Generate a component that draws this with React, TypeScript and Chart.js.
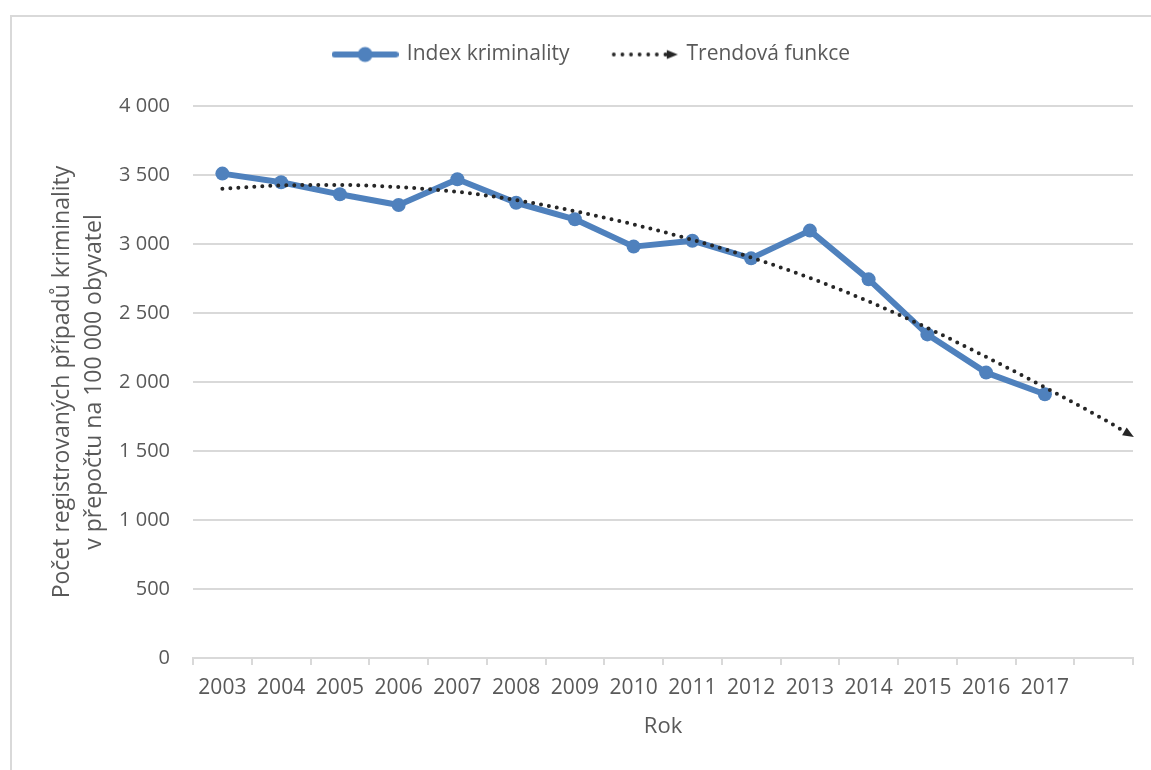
import React, { useEffect, useRef } from "react";
import { Chart, registerables } from "chart.js";

Chart.register(...registerables);

const years = [2003, 2004, 2005, 2006, 2007, 2008, 2009, 2010, 2011, 2012, 2013, 2014, 2015, 2016, 2017];
const crimeIndex = [3510, 3447, 3360, 3283, 3469, 3299, 3179, 2981, 3024, 2896, 3097, 2744, 2345, 2068, 1911];

// trend (Excel polynomial trendline, forecast forward past 2017)
const trendYears = [2003, 2004, 2005, 2006, 2007, 2008, 2009, 2010, 2011, 2012, 2013, 2014, 2015, 2016, 2017, 2018, 2018.5];
const trendValues = [3400, 3425, 3428, 3412, 3378, 3318, 3238, 3142, 3030, 2902, 2754, 2584, 2392, 2182, 1962, 1730, 1605];

const seriesNames = ["Index kriminality", "Trendová funkce"];
const yTitle = ["Počet registrovaných případů kriminality", "v přepočtu na 100 000 obyvatel"];
const xTitle = "Rok";

const BLUE = "#4f81bd";
const DARK = "#262626";
const GREY = "#d9d9d9";
const TEXT = "#595959";
const FONT = "'Open Sans', sans-serif";

const fmt = (v: number) =>
  v >= 1000 ? `${Math.floor(v / 1000)} ${String(v % 1000).padStart(3, "0")}` : String(v);

// legend samples drawn like Excel (line + marker, dotted line + arrow)
function lineSample() {
  const c = document.createElement("canvas");
  c.width = 67;
  c.height = 20;
  const ctx = c.getContext("2d")!;
  ctx.strokeStyle = BLUE;
  ctx.lineWidth = 6;
  ctx.lineCap = "round";
  ctx.beginPath();
  ctx.moveTo(3, 10);
  ctx.lineTo(64, 10);
  ctx.stroke();
  ctx.fillStyle = BLUE;
  ctx.beginPath();
  ctx.arc(33.5, 10, 7.5, 0, Math.PI * 2);
  ctx.fill();
  return c;
}

function trendSample() {
  const c = document.createElement("canvas");
  c.width = 68;
  c.height = 20;
  const ctx = c.getContext("2d")!;
  ctx.fillStyle = DARK;
  for (let i = 0; i < 7; i++) {
    ctx.beginPath();
    ctx.arc(3 + i * 8.6, 10, 1.9, 0, Math.PI * 2);
    ctx.fill();
  }
  ctx.beginPath();
  ctx.moveTo(67, 10);
  ctx.lineTo(56, 5.5);
  ctx.lineTo(56, 14.5);
  ctx.closePath();
  ctx.fill();
  return c;
}

const arrowPlugin = {
  id: "trendArrow",
  afterDatasetsDraw(chart: any) {
    const pts = chart.getDatasetMeta(1).data;
    const n = pts.length;
    if (n < 2) return;
    const a = pts[n - 2];
    const b = pts[n - 1];
    const ang = Math.atan2(b.y - a.y, b.x - a.x);
    const ctx = chart.ctx;
    ctx.save();
    ctx.translate(b.x, b.y);
    ctx.rotate(ang);
    ctx.fillStyle = DARK;
    ctx.beginPath();
    ctx.moveTo(1, 0);
    ctx.lineTo(-10, -4.5);
    ctx.lineTo(-10, 4.5);
    ctx.closePath();
    ctx.fill();
    ctx.restore();
  },
};

const App = () => {
  const ref = useRef<HTMLCanvasElement>(null!);

  useEffect(() => {
    const samples = [lineSample(), trendSample()];
    const chart = new Chart(ref.current, {
      type: "line",
      data: {
        labels: [...years.map(String), ""],
        datasets: [
          {
            label: seriesNames[0],
            data: crimeIndex,
            xAxisID: "x",
            yAxisID: "y",
            borderColor: BLUE,
            backgroundColor: BLUE,
            borderWidth: 6,
            borderJoinStyle: "round",
            pointRadius: 7,
            pointHoverRadius: 7,
            pointBorderWidth: 0,
            pointBackgroundColor: BLUE,
            tension: 0,
            order: 2,
          },
          {
            label: seriesNames[1],
            data: trendYears.map((x, i) => ({ x, y: trendValues[i] })),
            xAxisID: "x2",
            yAxisID: "y",
            borderColor: DARK,
            borderWidth: 4,
            borderDash: [0, 8],
            borderCapStyle: "round",
            pointRadius: 0,
            pointHoverRadius: 0,
            cubicInterpolationMode: "monotone",
            fill: false,
            clip: false,
            order: 1,
          },
        ],
      } as any,
      options: {
        responsive: false,
        animation: false,
        layout: { padding: { top: 0, right: 18, bottom: 0, left: 51 } },
        font: { family: FONT },
        plugins: {
          tooltip: { enabled: false },
          legend: {
            position: "top",
            labels: {
              usePointStyle: true,
              pointStyleWidth: 62.5,
              padding: 44,
              color: TEXT,
              font: { family: FONT, size: 21 },
              generateLabels: () =>
                seriesNames.map((text, i) => ({
                  text,
                  pointStyle: samples[i],
                  fillStyle: "transparent",
                  strokeStyle: "transparent",
                  lineWidth: 0,
                  hidden: false,
                  datasetIndex: i,
                  fontColor: TEXT,
                })),
            },
          },
        },
        scales: {
          x: {
            type: "category",
            position: "bottom",
            offset: true,
            afterFit: (s: any) => {
              s.height = 112;
            },
            grid: {
              offset: true,
              drawOnChartArea: false,
              drawTicks: true,
              tickLength: 7,
              color: GREY,
              lineWidth: 2,
            },
            border: { display: true, color: GREY, width: 2 },
            ticks: {
              autoSkip: false,
              maxRotation: 0,
              padding: 10,
              color: TEXT,
              font: { family: FONT, size: 21 },
            },
            title: {
              display: true,
              text: xTitle,
              color: TEXT,
              font: { family: FONT, size: 22 },
              padding: { top: 0, bottom: 30 },
            },
          },
          // hidden linear axis for the trendline (runs half a period past the last year)
          x2: {
            type: "linear",
            position: "top",
            min: 2002.5,
            max: 2018.5,
            afterFit: (s: any) => {
              s.height = 31;
            },
            grid: { display: false },
            border: { display: false },
            ticks: { display: false },
          },
          y: {
            type: "linear",
            min: 0,
            max: 4000,
            afterFit: (s: any) => {
              s.width = 142;
            },
            grid: { color: GREY, lineWidth: 2, drawTicks: false },
            border: { display: false },
            ticks: {
              stepSize: 500,
              padding: 23,
              color: TEXT,
              font: { family: FONT, size: 20 },
              callback: (v: any) => fmt(Number(v)),
            },
            title: {
              display: true,
              text: yTitle,
              color: TEXT,
              font: { family: FONT, size: 23, lineHeight: 1.39 },
              padding: { top: -5, bottom: 0 },
            },
          },
        },
      } as any,
      plugins: [arrowPlugin],
    });
    return () => {
      chart.destroy();
    };
  }, []);

  return (
    <div style={{ position: "absolute", left: 0, top: 0, width: 1151, height: 770 }}>
      <div
        style={{
          position: "absolute",
          left: 10,
          top: 15,
          width: 1141,
          height: 755,
          boxSizing: "border-box",
          borderLeft: `2px solid ${GREY}`,
          borderTop: `2px solid ${GREY}`,
        }}
      />
      <canvas ref={ref} width={1151} height={770} style={{ position: "absolute", left: 0, top: 0 }} />
    </div>
  );
};

export default App;
